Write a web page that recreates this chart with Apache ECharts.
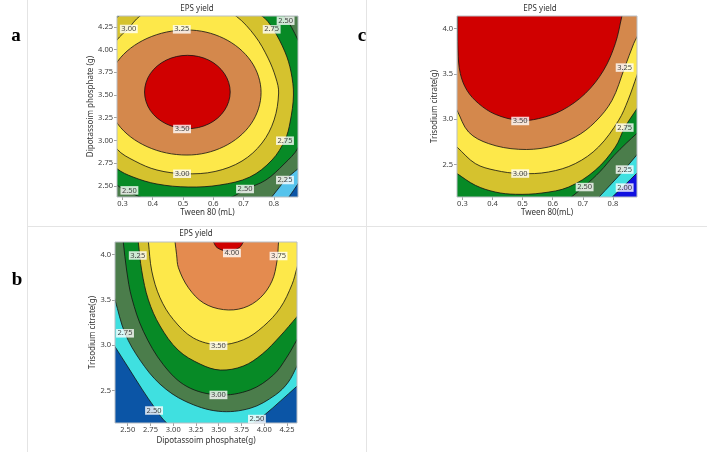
<!DOCTYPE html>
<html><head><meta charset="utf-8">
<script src="https://cdn.jsdelivr.net/npm/echarts@6/dist/echarts.min.js"></script>
<style>html,body{margin:0;padding:0;background:#fff}#c{width:707px;height:452px}</style>
</head><body><div id="c"></div>
<script>
// ---------------- tick values ----------------
const aXTicks = [0.3, 0.4, 0.5, 0.6, 0.7, 0.8];
const aYTicks = [2.50, 2.75, 3.00, 3.25, 3.50, 3.75, 4.00, 4.25];
const cXTicks = [0.3, 0.4, 0.5, 0.6, 0.7, 0.8];
const cYTicks = [2.5, 3.0, 3.5, 4.0];
const bXTicks = [2.50, 2.75, 3.00, 3.25, 3.50, 3.75, 4.00, 4.25];
const bYTicks = [2.5, 3.0, 3.5, 4.0];

// ---------------- panel a contours (Tween 80, Dipotassoim phosphate) ----------------
const a200 = [[0.850,2.377],[0.865,2.448],[0.880,2.523]];
const a225 = [[0.793,2.377],[0.814,2.465],[0.837,2.561],[0.857,2.624],[0.880,2.688]];
const a250 = [[0.926,3.533],[0.906,3.170],[0.880,2.916],[0.834,2.740],[0.774,2.564],[0.705,2.459],[0.662,2.377],[0.589,2.311],[0.515,2.289],[0.424,2.322],[0.358,2.377],[0.318,2.443],[0.282,2.509],[0.209,2.784],[0.143,3.225],[0.127,3.533],[0.153,3.996],[0.226,4.414],[0.358,4.656],[0.515,4.744],[0.688,4.656],[0.787,4.491],[0.834,4.370],[0.880,4.106],[0.913,3.830]];
const a275 = [[0.865,3.500],[0.854,3.203],[0.837,3.005],[0.794,2.784],[0.721,2.597],[0.622,2.509],[0.517,2.487],[0.414,2.520],[0.335,2.597],[0.282,2.688],[0.219,2.894],[0.180,3.225],[0.166,3.522],[0.180,3.885],[0.226,4.194],[0.282,4.355],[0.358,4.502],[0.517,4.568],[0.675,4.502],[0.761,4.370],[0.797,4.230],[0.837,3.974],[0.857,3.753]];
const a300 = [[0.816,3.522],[0.801,3.225],[0.761,2.971],[0.695,2.773],[0.606,2.658],[0.507,2.633],[0.414,2.674],[0.341,2.773],[0.282,2.905],[0.239,3.170],[0.2225,3.522],[0.239,3.863],[0.282,4.106],[0.318,4.227],[0.358,4.370],[0.424,4.480],[0.517,4.513],[0.606,4.480],[0.675,4.370],[0.738,4.150],[0.781,3.907],[0.807,3.687]];
const a325 = [[0.758,3.528],[0.725,3.871],[0.635,4.123],[0.513,4.216],[0.381,4.123],[0.284,3.871],[0.249,3.528],[0.284,3.183],[0.381,2.932],[0.513,2.839],[0.635,2.932],[0.725,3.183]];
const a350 = [[0.656,3.533],[0.637,3.735],[0.586,3.883],[0.515,3.937],[0.444,3.883],[0.392,3.735],[0.373,3.533],[0.392,3.330],[0.444,3.183],[0.515,3.129],[0.586,3.183],[0.637,3.330]];
const aLabels = [[0.321,4.227,'3.00'],[0.496,4.223,'3.25'],[0.839,4.318,'2.50'],[0.793,4.223,'2.75'],[0.497,3.126,'3.50'],[0.837,2.997,'2.75'],[0.497,2.633,'3.00'],[0.837,2.564,'2.25'],[0.323,2.450,'2.50'],[0.705,2.465,'2.50']];

// ---------------- panel c contours (Tween 80, Trisodium citrate) ----------------
const c200 = [[0.798,2.140],[0.837,2.264],[0.880,2.405]];
const c225 = [[0.754,2.140],[0.795,2.286],[0.839,2.446],[0.880,2.608]];
const c250 = [[0.662,2.140],[0.705,2.258],[0.758,2.424],[0.804,2.600],[0.844,2.733],[0.880,2.844]];
const c275 = [[0.282,2.399],[0.343,2.269],[0.409,2.195],[0.476,2.170],[0.564,2.184],[0.653,2.250],[0.741,2.435],[0.808,2.692],[0.839,2.907],[0.880,3.117]];
const c300 = [[0.282,2.692],[0.343,2.509],[0.409,2.435],[0.492,2.399],[0.586,2.416],[0.675,2.509],[0.752,2.692],[0.819,2.987],[0.850,3.208],[0.880,3.485]];
const c325 = [[0.282,3.098],[0.3205,2.858],[0.387,2.730],[0.487,2.667],[0.586,2.692],[0.675,2.803],[0.741,2.969],[0.797,3.208],[0.839,3.570],[0.869,3.835],[0.880,3.908]];
const c350 = [[0.284,4.140],[0.285,3.761],[0.293,3.504],[0.315,3.319],[0.354,3.172],[0.409,3.054],[0.487,2.987],[0.553,3.006],[0.631,3.098],[0.708,3.283],[0.769,3.540],[0.808,3.835],[0.830,4.140]];
const cLabels = [[0.492,2.980,'3.50'],[0.839,3.570,'3.25'],[0.839,2.907,'2.75'],[0.492,2.399,'3.00'],[0.839,2.443,'2.25'],[0.706,2.250,'2.50'],[0.839,2.244,'2.00']];

// ---------------- panel b contours (Dipotassoim phosphate, Trisodium citrate) ----------------
const b250 = [[2.360,2.983],[2.503,2.758],[2.657,2.514],[2.800,2.304],[2.929,2.140],[3.131,2.037],[3.406,1.993],[3.681,2.037],[3.882,2.140],[4.011,2.236],[4.176,2.381],[4.360,2.547]];
const b275 = [[2.360,3.500],[2.470,3.131],[2.635,2.835],[2.855,2.569],[3.131,2.381],[3.494,2.270],[3.846,2.303],[4.121,2.449],[4.264,2.591],[4.360,2.769]];
const b300 = [[2.451,4.140],[2.489,3.819],[2.544,3.523],[2.672,3.153],[2.892,2.783],[3.149,2.544],[3.497,2.450],[3.846,2.506],[4.102,2.672],[4.242,2.857],[4.360,3.060]];
const b325 = [[2.616,4.140],[2.654,3.822],[2.727,3.500],[2.855,3.212],[3.053,2.946],[3.296,2.791],[3.516,2.725],[3.769,2.769],[3.978,2.902],[4.176,3.101],[4.360,3.315]];
const b350 = [[2.727,4.140],[2.764,3.819],[2.855,3.523],[3.002,3.282],[3.222,3.079],[3.497,3.005],[3.772,3.060],[3.992,3.209],[4.176,3.412],[4.305,3.670],[4.360,3.855]];
const b375 = [[3.020,4.140],[3.037,3.999],[3.057,3.855],[3.167,3.634],[3.332,3.467],[3.552,3.393],[3.772,3.412],[3.956,3.523],[4.085,3.708],[4.140,3.929],[4.157,4.140]];
const b400 = [[3.442,4.140],[3.483,4.077],[3.604,4.038],[3.725,4.077],[3.772,4.140]];
const bLabels = [[3.645,4.018,'4.00'],[4.157,3.985,'3.75'],[2.610,3.991,'3.25'],[2.470,3.131,'2.75'],[3.497,2.994,'3.50'],[3.497,2.450,'3.00'],[2.789,2.278,'2.50'],[3.920,2.184,'2.50']];

// ---------------- styling ----------------
const SANS = "'Noto Sans','Open Sans',sans-serif";
const SERIF = "'Liberation Serif','DejaVu Serif',serif";
const COL = {
  red:'#d00000', brown:'#d4884c', orange:'#e48b4f', yellow:'#fde84a', olive:'#d5c22e',
  green:'#078a26', ggreen:'#4b7d4b', sky:'#55c3ec', cyan:'#3fe0e0', navy:'#0b55a6', blue:'#1010e0'
};

const panels = [
  { grid:{left:117, top:16, width:181, height:181}, xr:[0.282,0.880], yr:[2.377,4.370],
    xt:aXTicks, yt:aYTicks, xd:1, yd:2, xName:'Tween 80 (mL)', yName:'Dipotassoim phosphate (g)',
    xGap:11.5, yGap:16.5, bg:COL.navy, labels:aLabels,
    layers:[
      {pts:a200, closed:false, corners:['TR','TL','BL'], color:COL.sky},
      {pts:a225, closed:false, corners:['TR','TL','BL'], color:COL.ggreen},
      {pts:a250, closed:true, color:COL.green},
      {pts:a275, closed:true, color:COL.olive},
      {pts:a300, closed:true, color:COL.yellow},
      {pts:a325, closed:true, color:COL.brown},
      {pts:a350, closed:true, color:COL.red}
    ]},
  { grid:{left:457, top:16, width:180, height:181}, xr:[0.282,0.880], yr:[2.14,4.14],
    xt:cXTicks, yt:cYTicks, xd:1, yd:1, xName:'Tween 80(mL)', yName:'Trisodium citrate(g)',
    xGap:11, yGap:16, bg:COL.blue, labels:cLabels,
    layers:[
      {pts:c200, closed:false, corners:['TR','TL','BL'], color:COL.cyan},
      {pts:c225, closed:false, corners:['TR','TL','BL'], color:COL.ggreen},
      {pts:c250, closed:false, corners:['TR','TL','BL'], color:COL.green},
      {pts:c275, closed:false, corners:['TR','TL'], color:COL.olive},
      {pts:c300, closed:false, corners:['TR','TL'], color:COL.yellow},
      {pts:c325, closed:false, corners:['TR','TL'], color:COL.brown},
      {pts:c350, closed:false, corners:['TR','TL'], color:COL.red}
    ]},
  { grid:{left:115, top:242, width:182, height:181}, xr:[2.36,4.36], yr:[2.14,4.14],
    xt:bXTicks, yt:bYTicks, xd:2, yd:1, xName:'Dipotassoim phosphate(g)', yName:'Trisodium citrate(g)',
    xGap:14, yGap:14.5, bg:COL.navy, labels:bLabels,
    layers:[
      {pts:b250, closed:false, corners:['TR','TL'], color:COL.cyan},
      {pts:b275, closed:false, corners:['TR','TL'], color:COL.ggreen},
      {pts:b300, closed:false, corners:['TR','TL'], color:COL.green},
      {pts:b325, closed:false, corners:['TR','TL'], color:COL.olive},
      {pts:b350, closed:false, corners:['TR','TL'], color:COL.yellow},
      {pts:b375, closed:false, corners:['TR','TL'], color:COL.orange},
      {pts:b400, closed:false, corners:['TR','TL'], color:COL.red}
    ]}
];

const SM = 0.35;
function contourSeries(i, P) {
  return {
    type:'custom', coordinateSystem:'cartesian2d', xAxisIndex:i, yAxisIndex:i,
    silent:true, animation:false, z:2, clip:true,
    encode:{x:0, y:1},
    data: P.layers.map(() => [P.xr[0], P.yr[0]]),
    renderItem: function (params, api) {
      const L = P.layers[params.dataIndex];
      const cs = params.coordSys;
      const pts = L.pts.map(p => api.coord(p));
      let fillPts, strokePts;
      if (L.closed) { fillPts = pts; strokePts = pts; }
      else {
        const ext = (a, b) => { const dx = a[0]-b[0], dy = a[1]-b[1], d = Math.hypot(dx, dy) || 1; return [a[0]+dx/d*20, a[1]+dy/d*20]; };
        const n = pts.length;
        strokePts = [ext(pts[0], pts[1])].concat(pts, [ext(pts[n-1], pts[n-2])]);
        const F = 400;
        const corner = { TR:[cs.x+cs.width+F, cs.y-F], TL:[cs.x-F, cs.y-F],
                         BL:[cs.x-F, cs.y+cs.height+F], BR:[cs.x+cs.width+F, cs.y+cs.height+F] };
        fillPts = strokePts.concat(L.corners.map(c => corner[c]));
      }
      return {
        type:'group',
        clipPath:{type:'rect', shape:{x:cs.x, y:cs.y, width:cs.width, height:cs.height}},
        children:[
          {type:'polygon', shape:{points:fillPts, smooth:SM}, style:{fill:L.color, stroke:null}},
          {type:L.closed ? 'polygon' : 'polyline', shape:{points:strokePts, smooth:SM},
           style:{fill:null, stroke:'#111', lineWidth:0.8}}
        ]
      };
    }
  };
}
function frameSeries(i, P) {
  return {
    type:'custom', coordinateSystem:'cartesian2d', xAxisIndex:i, yAxisIndex:i,
    silent:true, animation:false, z:3, clip:false,
    encode:{x:0, y:1}, data:[[P.xr[0], P.yr[0]]],
    renderItem: function (params) {
      const cs = params.coordSys;
      return {type:'rect', shape:{x:cs.x, y:cs.y, width:cs.width, height:cs.height},
              style:{fill:null, stroke:'#b9bec4', lineWidth:1}};
    }
  };
}
function labelSeries(i, P) {
  return {
    type:'scatter', xAxisIndex:i, yAxisIndex:i, silent:true, animation:false, z:5,
    symbolSize:1, itemStyle:{color:'rgba(0,0,0,0)'},
    data: P.labels.map(l => ({value:[l[0], l[1]], name:l[2]})),
    label:{show:true, position:'inside', formatter:'{b}', backgroundColor:'#fff',
           padding:[1,1.5,0,1.5], fontSize:7.5, lineHeight:7.5, color:'#111', fontFamily:SANS}
  };
}

const option = {
  backgroundColor:'#fff',
  animation:false,
  grid: panels.map(P => Object.assign({show:true, backgroundColor:P.bg, borderWidth:0,
        containLabel:false, outerBoundsMode:'none'}, P.grid)),
  xAxis: panels.map((P, i) => ({
    gridIndex:i, type:'value', min:P.xr[0], max:P.xr[1],
    axisLine:{show:false}, splitLine:{show:false},
    axisTick:{show:true, customValues:P.xt, length:3, lineStyle:{color:'#8a8a8a', width:0.8}},
    axisLabel:{customValues:P.xt, formatter:v => v.toFixed(P.xd), fontSize:7.5, color:'#3c3c3c', margin:3, fontFamily:SANS},
    name:P.xName, nameLocation:'middle', nameGap:P.xGap,
    nameTextStyle:{fontSize:8, color:'#333', fontFamily:SANS}
  })),
  yAxis: panels.map((P, i) => ({
    gridIndex:i, type:'value', min:P.yr[0], max:P.yr[1],
    axisLine:{show:false}, splitLine:{show:false},
    axisTick:{show:true, customValues:P.yt, length:3, lineStyle:{color:'#8a8a8a', width:0.8}},
    axisLabel:{customValues:P.yt, formatter:v => v.toFixed(P.yd), fontSize:7.5, color:'#3c3c3c', margin:4, fontFamily:SANS},
    name:P.yName, nameLocation:'middle', nameGap:P.yGap, nameRotate:90,
    nameTextStyle:{fontSize:8, color:'#333', fontFamily:SANS}
  })),
  series: [].concat(
    panels.map((P, i) => contourSeries(i, P)),
    panels.map((P, i) => frameSeries(i, P)),
    panels.map((P, i) => labelSeries(i, P))
  ),
  graphic: [
    {type:'line', silent:true, shape:{x1:27.5, y1:0, x2:27.5, y2:452}, style:{stroke:'#e4e4e4', lineWidth:1}},
    {type:'line', silent:true, shape:{x1:366.5, y1:0, x2:366.5, y2:452}, style:{stroke:'#e4e4e4', lineWidth:1}},
    {type:'line', silent:true, shape:{x1:27, y1:226.5, x2:707, y2:226.5}, style:{stroke:'#e4e4e4', lineWidth:1}},
    {type:'text', silent:true, x:197, y:8.5, style:{text:'EPS yield', align:'center', verticalAlign:'middle', textAlign:'center', textVerticalAlign:'middle', fontSize:8, fontFamily:SANS, fill:'#333'}},
    {type:'text', silent:true, x:540, y:8.5, style:{text:'EPS yield', align:'center', verticalAlign:'middle', textAlign:'center', textVerticalAlign:'middle', fontSize:8, fontFamily:SANS, fill:'#333'}},
    {type:'text', silent:true, x:196, y:233.5, style:{text:'EPS yield', align:'center', verticalAlign:'middle', textAlign:'center', textVerticalAlign:'middle', fontSize:8, fontFamily:SANS, fill:'#333'}},
    {type:'text', silent:true, x:16, y:36, style:{text:'a', align:'center', verticalAlign:'middle', textAlign:'center', textVerticalAlign:'middle', fontSize:19, fontWeight:'bold', fontFamily:SERIF, fill:'#000'}},
    {type:'text', silent:true, x:362, y:36, style:{text:'c', align:'center', verticalAlign:'middle', textAlign:'center', textVerticalAlign:'middle', fontSize:19, fontWeight:'bold', fontFamily:SERIF, fill:'#000'}},
    {type:'text', silent:true, x:17, y:280, style:{text:'b', align:'center', verticalAlign:'middle', textAlign:'center', textVerticalAlign:'middle', fontSize:19, fontWeight:'bold', fontFamily:SERIF, fill:'#000'}}
  ]
};
const chart = echarts.init(document.getElementById('c'), null, {renderer:'canvas'});
chart.setOption(option);
</script></body></html>
